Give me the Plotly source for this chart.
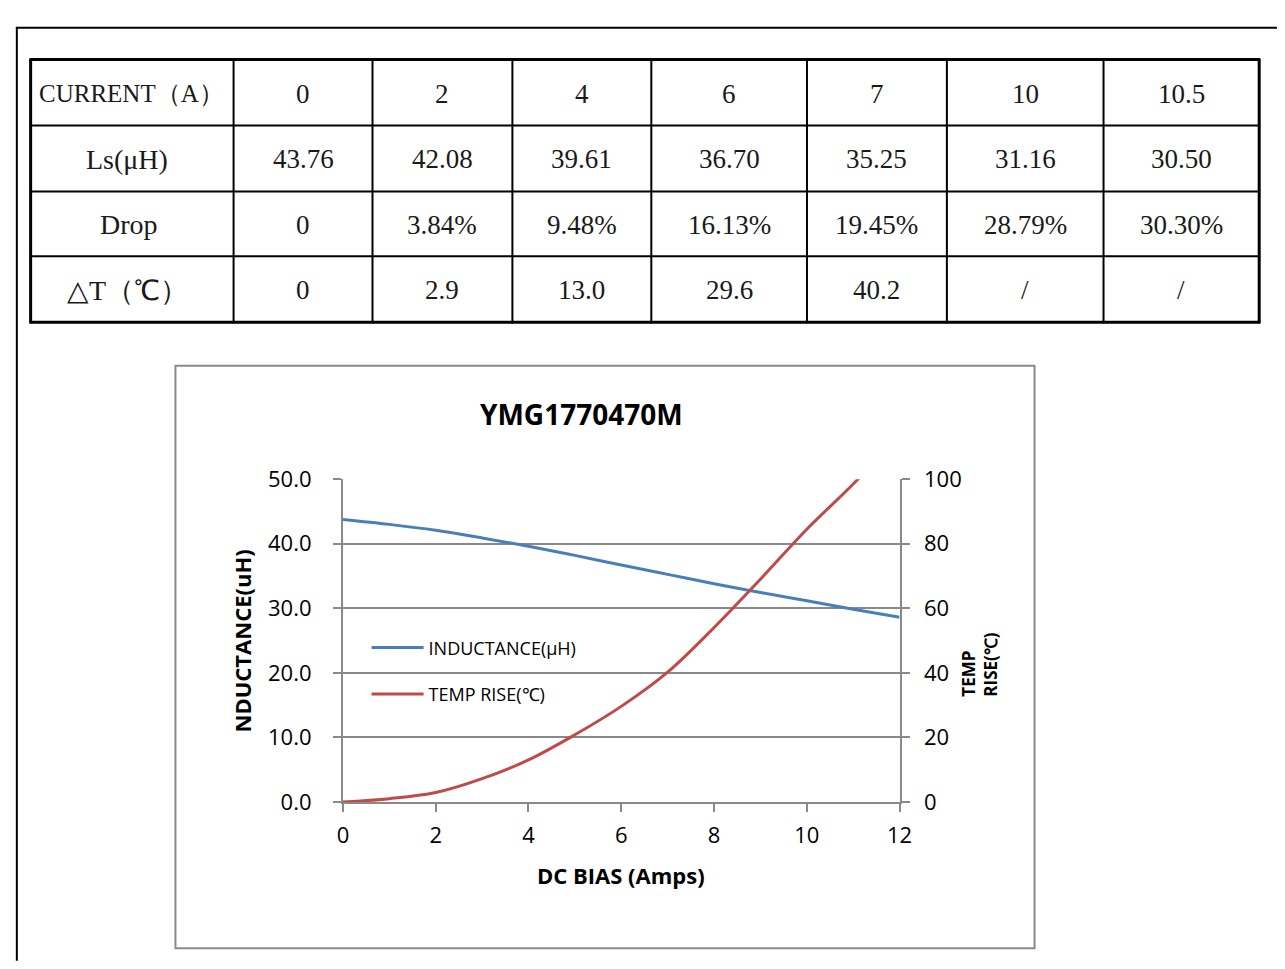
import plotly.graph_objects as go

W, H = 1285, 969

# ---------------- data ----------------
row_headers = ["CURRENT（A）", "Ls(μH)", "Drop", "△T（℃）"]
header_sizes = [25, 28, 28, 28]
header_shift = [-1, -5, -3, -5]
current_lbl = ["0", "2", "4", "6", "7", "10", "10.5"]
ls_lbl = ["43.76", "42.08", "39.61", "36.70", "35.25", "31.16", "30.50"]
drop_lbl = ["0", "3.84%", "9.48%", "16.13%", "19.45%", "28.79%", "30.30%"]
dt_lbl = ["0", "2.9", "13.0", "29.6", "40.2", "/", "/"]

bias = [0, 1, 2, 3, 4, 5, 6, 7, 8, 9, 10, 11, 12]
inductance = [43.76, 43.0, 42.08, 40.9, 39.61, 38.2, 36.70, 35.25, 33.8, 32.45, 31.16, 29.85, 28.6]
temp_rise = [0, 1.0, 2.9, 7.2, 13.0, 20.8, 29.6, 40.2, 54.0, 69.0, 84.5, 98.5, 114.0]

chart_title = "YMG1770470M"
x_title = "DC BIAS (Amps)"
y1_title = "NDUCTANCE(uH)"
y2_title = "TEMP<br>RISE(℃)"
name1 = "INDUCTANCE(μH)"
name2 = "TEMP RISE(℃)"

# ---------------- helpers ----------------
def fx(x):
    return x / W

def fy(y):
    return 1 - y / H

BLUE = "#4A7EBB"
RED = "#BE4B48"
GRID = "#898989"
CHART_FONT = "Open Sans"
TABLE_FONT = "Liberation Serif"

fig = go.Figure()
fig.add_trace(go.Scatter(x=bias, y=inductance, mode="lines", name=name1,
                         line=dict(color=BLUE, width=3, shape="spline", smoothing=1.0),
                         legendgroup="a", yaxis="y"))
fig.add_trace(go.Scatter(x=bias, y=temp_rise, mode="lines", name=name2,
                         line=dict(color=RED, width=3, shape="spline", smoothing=1.0),
                         legendgroup="b", yaxis="y2"))

shapes = []
annotations = []

# outer page frame
shapes.append(dict(type="line", xref="paper", yref="paper", x0=fx(11), x1=fx(11), y0=fy(12), y1=fy(975),
                   line=dict(color="black", width=2)))
shapes.append(dict(type="line", xref="paper", yref="paper", x0=fx(10), x1=fx(1290), y0=fy(12), y1=fy(12),
                   line=dict(color="black", width=2)))

# table
col_x = [25, 231, 372, 514, 655, 813, 955, 1114, 1272]
row_y = [45, 113, 181, 248, 316]
for i, xv in enumerate(col_x):
    wdt = 3 if i in (0, len(col_x) - 1) else 2
    shapes.append(dict(type="line", xref="paper", yref="paper", x0=fx(xv), x1=fx(xv),
                       y0=fy(row_y[0] - 1), y1=fy(row_y[-1] + 1), line=dict(color="black", width=wdt)))
for j, yv in enumerate(row_y):
    wdt = 3 if j in (0, len(row_y) - 1) else 2
    shapes.append(dict(type="line", xref="paper", yref="paper", x0=fx(col_x[0] - 1), x1=fx(col_x[-1] + 1),
                       y0=fy(yv), y1=fy(yv), line=dict(color="black", width=wdt)))

rows = [current_lbl, ls_lbl, drop_lbl, dt_lbl]
for r, (hdr, vals) in enumerate(zip(row_headers, rows)):
    yc = (row_y[r] + row_y[r + 1]) / 2 + 1
    cells = [hdr] + vals
    for c, txt in enumerate(cells):
        xc = (col_x[c] + col_x[c + 1]) / 2
        size = 27
        if c == 0:
            xc += header_shift[r]
            size = header_sizes[r]
        annotations.append(dict(xref="paper", yref="paper", x=fx(xc), y=fy(yc), text=txt,
                                showarrow=False, xanchor="center", yanchor="middle",
                                font=dict(family=TABLE_FONT, size=size, color="#1a1a1a")))

# chart box
shapes.append(dict(type="rect", xref="paper", yref="paper", x0=fx(172), x1=fx(1044), y0=fy(962), y1=fy(361),
                   line=dict(color="#8a8a8a", width=2), fillcolor="rgba(0,0,0,0)"))

# titles
annotations.append(dict(xref="paper", yref="paper", x=fx(584), y=fy(411), text="<b>%s</b>" % chart_title,
                        showarrow=False, xanchor="center", yanchor="middle",
                        font=dict(family=CHART_FONT, size=28, color="black")))
annotations.append(dict(xref="paper", yref="paper", x=fx(624), y=fy(886), text="<b>%s</b>" % x_title,
                        showarrow=False, xanchor="center", yanchor="middle",
                        font=dict(family=CHART_FONT, size=22, color="black")))
annotations.append(dict(xref="paper", yref="paper", x=fx(240), y=fy(645), text="<b>%s</b>" % y1_title,
                        showarrow=False, xanchor="center", yanchor="middle", textangle=-90,
                        font=dict(family=CHART_FONT, size=22, color="black")))
annotations.append(dict(xref="paper", yref="paper", x=fx(988), y=fy(669), text="<b>%s</b>" % y2_title,
                        showarrow=False, xanchor="center", yanchor="middle", textangle=-90, align="left",
                        font=dict(family=CHART_FONT, size=17, color="black")))

axis_font = dict(family=CHART_FONT, size=22, color="black")

fig.update_layout(
    width=W, height=H,
    margin=dict(l=0, r=0, t=0, b=0),
    paper_bgcolor="white", plot_bgcolor="white",
    shapes=shapes, annotations=annotations,
    showlegend=True,
    legend=dict(x=fx(366), y=fy(633), xanchor="left", yanchor="top",
                bgcolor="rgba(0,0,0,0)", borderwidth=0,
                font=dict(family=CHART_FONT, size=18, color="black"),
                traceorder="grouped", tracegroupgap=20, itemwidth=52),
    xaxis=dict(domain=[fx(342), fx(907)], range=[0, 12], dtick=2, tick0=0,
               showgrid=False, zeroline=False, showline=True, linecolor=GRID, linewidth=2,
               ticks="outside", ticklen=8, tickwidth=2, tickcolor=GRID,
               tickfont=axis_font, ticklabelstandoff=5, fixedrange=True),
    yaxis=dict(domain=[fy(811), fy(478)], range=[0, 50], dtick=10, tick0=0, tickformat=".1f",
               showgrid=True, gridcolor=GRID, gridwidth=2, zeroline=False,
               showline=True, linecolor=GRID, linewidth=2,
               ticks="outside", ticklen=8, tickwidth=2, tickcolor=GRID,
               tickfont=axis_font, ticklabelstandoff=17, fixedrange=True),
    yaxis2=dict(overlaying="y", side="right", anchor="x", range=[0, 100], dtick=20, tick0=0,
                showgrid=False, zeroline=False, showline=True, linecolor=GRID, linewidth=2,
                ticks="outside", ticklen=8, tickwidth=2, tickcolor=GRID,
                tickfont=axis_font, ticklabelstandoff=10, fixedrange=True),
)

fig.write_html("out.html", config={"displayModeBar": False},
               post_script="document.body.style.margin='0';document.body.style.overflow='hidden';")
